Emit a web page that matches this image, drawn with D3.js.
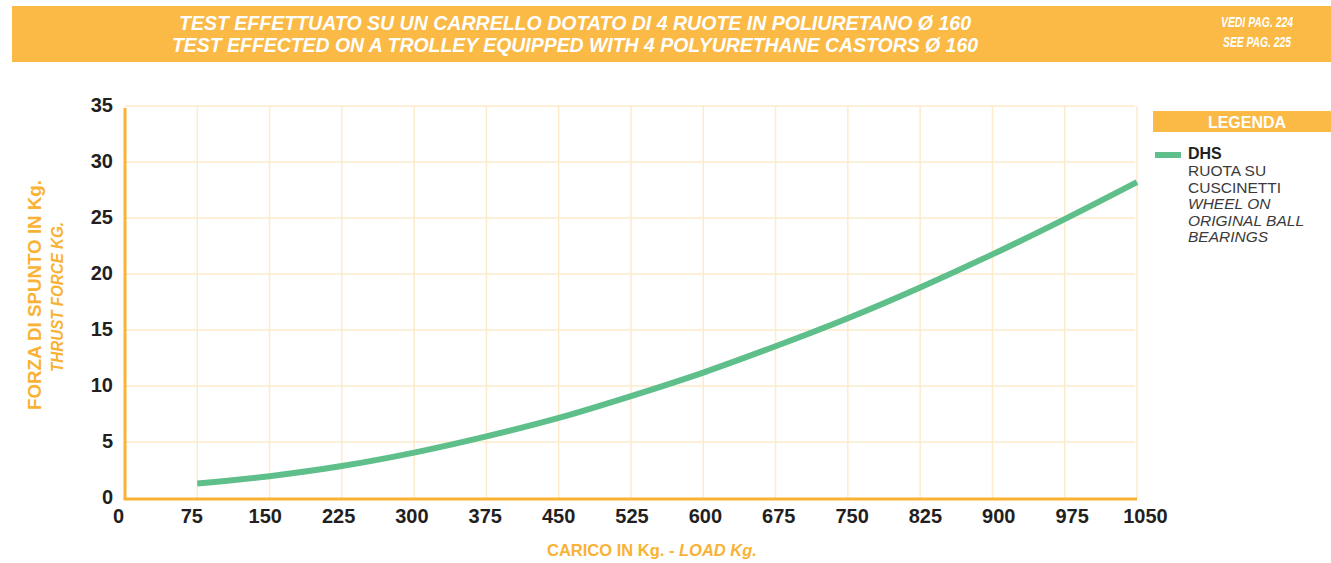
<!DOCTYPE html>
<html lang="it">
<head>
<meta charset="utf-8">
<title>Forza di spunto</title>
<script src="https://cdn.jsdelivr.net/npm/d3@7/dist/d3.min.js"></script>
<style>
  body { margin: 0; background: #fff; }
  svg text { font-family: "Liberation Sans", Arial, Helvetica, sans-serif; }
</style>
</head>
<body>
<div id="chart"></div>
<script>
// dati
const loads = [75, 150, 225, 300, 375, 450, 525, 600, 675, 750, 825, 900, 975, 1050];
const thrust = [1.3, 1.95, 2.85, 4.05, 5.5, 7.15, 9.1, 11.2, 13.55, 16.05, 18.8, 21.75, 24.9, 28.2];
const xTicks = [0, 75, 150, 225, 300, 375, 450, 525, 600, 675, 750, 825, 900, 975, 1050];
const yTicks = [0, 5, 10, 15, 20, 25, 30, 35];
const titleLines = ["TEST EFFETTUATO SU UN CARRELLO DOTATO DI 4 RUOTE IN POLIURETANO Ø 160",
                    "TEST EFFECTED ON A TROLLEY EQUIPPED WITH 4 POLYURETHANE CASTORS Ø 160"];
const pageRefs = ["VEDI PAG. 224", "SEE PAG. 225"];
const legendLines = ["RUOTA SU", "CUSCINETTI", "WHEEL ON", "ORIGINAL BALL", "BEARINGS"];

const width = 1331, height = 563;
const orange = "#f9b233", banner = "#fbb946", grid = "#fdebcb", green = "#5fbf8a";

const svg = d3.select("#chart").append("svg")
    .attr("width", width).attr("height", height);

// intestazione
svg.append("rect").attr("x", 12).attr("y", 6).attr("width", width - 12).attr("height", 56).attr("fill", banner);
svg.selectAll(".title").data(titleLines).enter().append("text")
    .attr("x", 575).attr("y", (d, i) => 30 + i * 22)
    .attr("text-anchor", "middle")
    .attr("textLength", (d, i) => i ? 806 : 792).attr("lengthAdjust", "spacingAndGlyphs")
    .attr("fill", "#fff").attr("font-weight", "bold").attr("font-style", "italic")
    .attr("font-size", 19.5).text(d => d);
svg.selectAll(".ref").data(pageRefs).enter().append("text")
    .attr("x", 1257).attr("y", (d, i) => 27 + i * 20)
    .attr("text-anchor", "middle")
    .attr("textLength", (d, i) => i ? 68 : 72).attr("lengthAdjust", "spacingAndGlyphs")
    .attr("fill", "#fff").attr("font-weight", "bold").attr("font-style", "italic")
    .attr("font-size", 15).text(d => d);

// scale
const x = d3.scaleLinear().domain([0, 1050]).range([125, 1137]);
const xLab = d3.scaleLinear().domain([0, 1050]).range([118, 1145]); // etichette leggermente più spaziate
const y = d3.scaleLinear().domain([0, 35]).range([498, 106]);

// griglia
svg.append("g").selectAll("line").data(xTicks.slice(1)).enter().append("line")
    .attr("x1", d => x(d)).attr("x2", d => x(d))
    .attr("y1", y(35)).attr("y2", y(0))
    .attr("stroke", grid).attr("stroke-width", 1.5);
svg.append("g").selectAll("line").data(yTicks.slice(1)).enter().append("line")
    .attr("x1", x(0)).attr("x2", x(1050) - 2)
    .attr("y1", d => y(d)).attr("y2", d => y(d))
    .attr("stroke", grid).attr("stroke-width", 1.5);

// assi
svg.append("line").attr("x1", x(0) - 1.5).attr("x2", x(1050))
    .attr("y1", y(0) + 1).attr("y2", y(0) + 1)
    .attr("stroke", orange).attr("stroke-width", 3);
const xAxis = svg.append("g").attr("transform", `translate(0,${y(0) + 1})`)
    .call(d3.axisBottom(xLab).tickValues(xTicks).tickFormat(d3.format("d")).tickSize(0).tickPadding(10));
xAxis.select(".domain").remove();
const yAxis = svg.append("g").attr("transform", `translate(${x(0)},0)`)
    .call(d3.axisLeft(y).tickValues(yTicks).tickSize(0).tickPadding(12));
yAxis.select(".domain").attr("stroke", orange).attr("stroke-width", 3)
    .attr("d", `M0,${y(35) + 2}V${y(0) + 1}`);
[xAxis, yAxis].forEach(a => {
  a.selectAll("text").attr("font-size", 20).attr("font-weight", "bold")
    .attr("fill", "#231f20").attr("font-family", "Liberation Sans, Arial, sans-serif");
});
yAxis.selectAll("text").attr("dy", "0.25em");

// curva
const line = d3.line().x((d, i) => x(loads[i])).y(d => y(d)).curve(d3.curveMonotoneX);
svg.append("path").datum(thrust)
    .attr("d", line).attr("fill", "none")
    .attr("stroke", green).attr("stroke-width", 6);

// titoli assi
svg.append("text").attr("transform", "translate(41,295) rotate(-90)")
    .attr("text-anchor", "middle").attr("fill", orange).attr("font-weight", "bold")
    .attr("font-size", 18).attr("textLength", 230).attr("lengthAdjust", "spacingAndGlyphs")
    .text("FORZA DI SPUNTO IN Kg.");
svg.append("text").attr("transform", "translate(63,297) rotate(-90)")
    .attr("text-anchor", "middle").attr("fill", orange).attr("font-weight", "bold")
    .attr("font-style", "italic").attr("font-size", 17)
    .attr("textLength", 150).attr("lengthAdjust", "spacingAndGlyphs").text("THRUST FORCE KG.");
const xt = svg.append("text").attr("x", 652).attr("y", 556)
    .attr("text-anchor", "middle").attr("fill", orange).attr("font-weight", "bold").attr("font-size", 16.5);
xt.append("tspan").text("CARICO IN Kg. - ");
xt.append("tspan").attr("font-style", "italic").text("LOAD Kg.");

// legenda
svg.append("rect").attr("x", 1153).attr("y", 111).attr("width", width - 1153).attr("height", 21).attr("fill", banner);
svg.append("text").attr("x", 1247).attr("y", 128).attr("text-anchor", "middle")
    .attr("fill", "#fff").attr("font-weight", "bold").attr("font-size", 16).text("LEGENDA");
svg.append("line").attr("x1", 1155).attr("x2", 1181).attr("y1", 155).attr("y2", 155)
    .attr("stroke", green).attr("stroke-width", 6);
svg.append("text").attr("x", 1188).attr("y", 159).attr("fill", "#231f20")
    .attr("font-weight", "bold").attr("font-size", 16).text("DHS");
svg.selectAll(".leg").data(legendLines).enter().append("text")
    .attr("x", 1188).attr("y", (d, i) => 176 + i * 16.6)
    .attr("fill", "#3a3a3a").attr("font-size", 15.5)
    .attr("font-style", (d, i) => i >= 2 ? "italic" : "normal")
    .text(d => d);
</script>
</body>
</html>
